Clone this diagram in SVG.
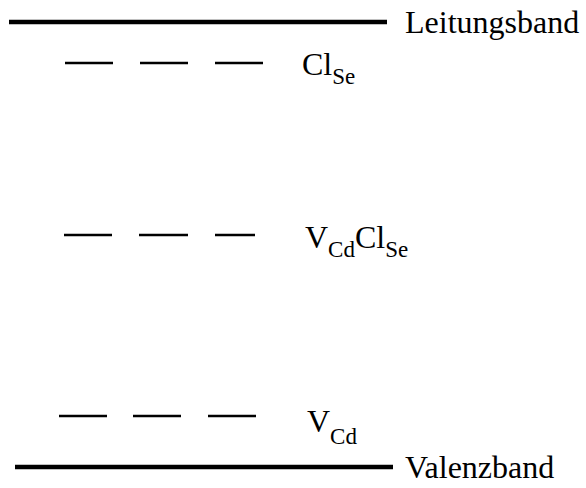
<svg xmlns="http://www.w3.org/2000/svg" width="586" height="488" viewBox="0 0 586 488">
<style>
.band{stroke:#000;stroke-width:4.5;fill:none}
.lvl{stroke:#000;stroke-width:2.5;fill:none}
.t{font-family:"Liberation Serif",serif;font-size:32px;fill:#000}
.s{font-size:23px}
</style>
<rect width="586" height="488" fill="#fff"/>
<g id="leitungsband">
<line class="band" x1="9" y1="22" x2="387" y2="22"/>
<text class="t" x="405" y="33">Leitungsband</text>
</g>
<g id="cl_se">
<line class="lvl" x1="65" y1="63" x2="113" y2="63"/>
<line class="lvl" x1="140" y1="63" x2="188" y2="63"/>
<line class="lvl" x1="215" y1="63" x2="263" y2="63"/>
<text class="t" x="302" y="75">Cl<tspan class="s" dy="9">Se</tspan></text>
</g>
<g id="vcd_clse">
<line class="lvl" x1="64" y1="235" x2="112" y2="235"/>
<line class="lvl" x1="139" y1="235" x2="188" y2="235"/>
<line class="lvl" x1="215" y1="235" x2="255" y2="235"/>
<text class="t" x="305" y="248">V<tspan class="s" dy="9">Cd</tspan><tspan dy="-9">Cl</tspan><tspan class="s" dy="9">Se</tspan></text>
</g>
<g id="v_cd">
<line class="lvl" x1="59" y1="416" x2="107" y2="416"/>
<line class="lvl" x1="133" y1="416" x2="181" y2="416"/>
<line class="lvl" x1="208" y1="416" x2="256" y2="416"/>
<text class="t" x="307" y="432">V<tspan class="s" dy="12">Cd</tspan></text>
</g>
<g id="valenzband">
<line class="band" x1="15" y1="467" x2="393" y2="467"/>
<text class="t" x="405" y="478">Valenzband</text>
</g>
<g id="connectors"></g>
</svg>
